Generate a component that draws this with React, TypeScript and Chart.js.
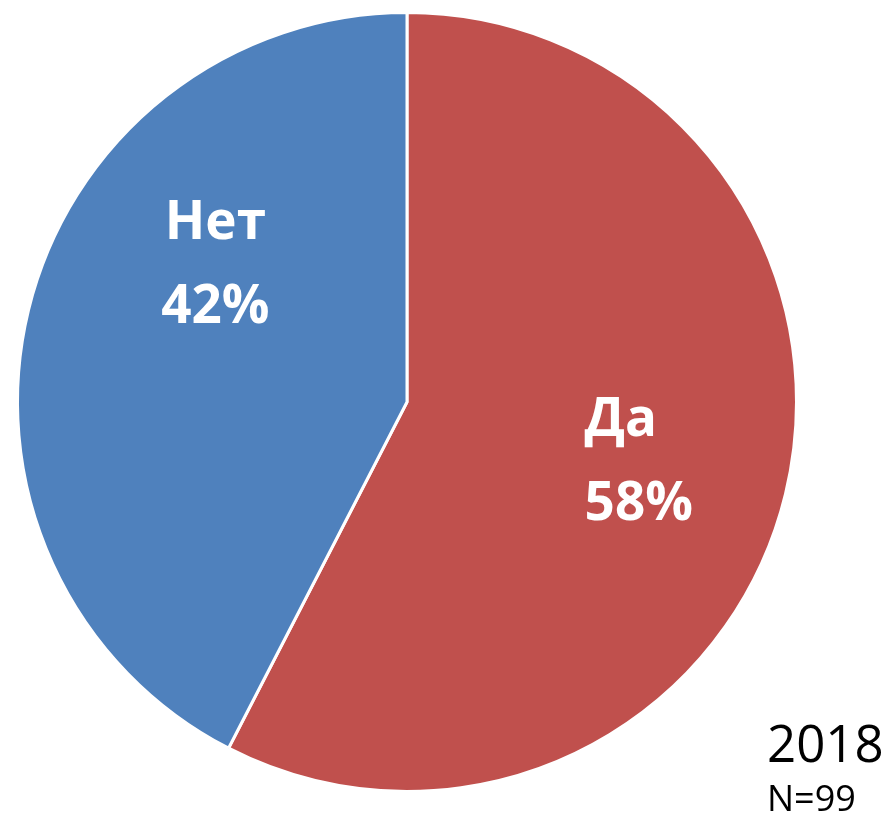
import React, { useEffect, useRef } from "react";
import { Chart, registerables } from "chart.js";

Chart.register(...registerables);

const categories = ["Да", "Нет"];
const values = [57, 42];
const colors = ["#C0504D", "#4F81BD"];
const yearLabel = "2018";
const sampleLabel = "N=99";

const W = 886;
const H = 823;

const labelPlugin = {
  id: "sliceLabels",
  afterDatasetsDraw(chart: any) {
    const ctx = chart.ctx;
    const meta = chart.getDatasetMeta(0);
    const total = values.reduce((a, b) => a + b, 0);
    const cfg = [
      { fx: 0.456, fy: 0.146, align: "left" },
      { fx: -0.492, fy: -0.359, align: "center" },
    ];
    meta.data.forEach((arc: any, i: number) => {
      const { x, y, outerRadius } = arc.getProps(["x", "y", "outerRadius"], true);
      const c = cfg[i];
      const ax = x + outerRadius * c.fx;
      const ay = y + outerRadius * c.fy;
      const pct = Math.round((values[i] / total) * 100) + "%";
      ctx.save();
      ctx.fillStyle = "#FFFFFF";
      ctx.font = "bold 53px 'Open Sans'";
      ctx.textAlign = c.align;
      ctx.textBaseline = "alphabetic";
      ctx.fillText(categories[i], ax, ay - 42 + 19);
      ctx.fillText(pct, ax, ay + 42 + 19);
      ctx.restore();
    });
  },
};

export default function App() {
  const ref = useRef<HTMLCanvasElement>(null);
  useEffect(() => {
    document.body.style.margin = "0";
    const chart = new Chart(ref.current!, {
      type: "pie",
      data: {
        labels: categories,
        datasets: [
          {
            data: values,
            backgroundColor: colors,
            borderColor: "#FFFFFF",
            borderWidth: 3,
          },
        ],
      },
      options: {
        responsive: false,
        animation: false,
        layout: { padding: { left: 16, top: 11, right: 88, bottom: 30 } },
        plugins: {
          legend: { display: false },
          tooltip: { enabled: false },
          title: { display: false },
        },
      },
      plugins: [labelPlugin],
    });
    return () => chart.destroy();
  }, []);
  return (
    <div style={{ position: "relative", width: W, height: H, background: "#fff" }}>
      <canvas ref={ref} width={W} height={H} style={{ display: "block" }} />
      <div
        style={{
          position: "absolute",
          left: 767,
          top: 712,
          fontFamily: "'Open Sans'",
          fontSize: 51,
          lineHeight: "60px",
          color: "#000",
        }}
      >
        {yearLabel}
      </div>
      <div
        style={{
          position: "absolute",
          left: 767,
          top: 778,
          fontFamily: "'Open Sans'",
          fontSize: 36,
          lineHeight: "40px",
          color: "#000",
        }}
      >
        {sampleLabel}
      </div>
    </div>
  );
}
